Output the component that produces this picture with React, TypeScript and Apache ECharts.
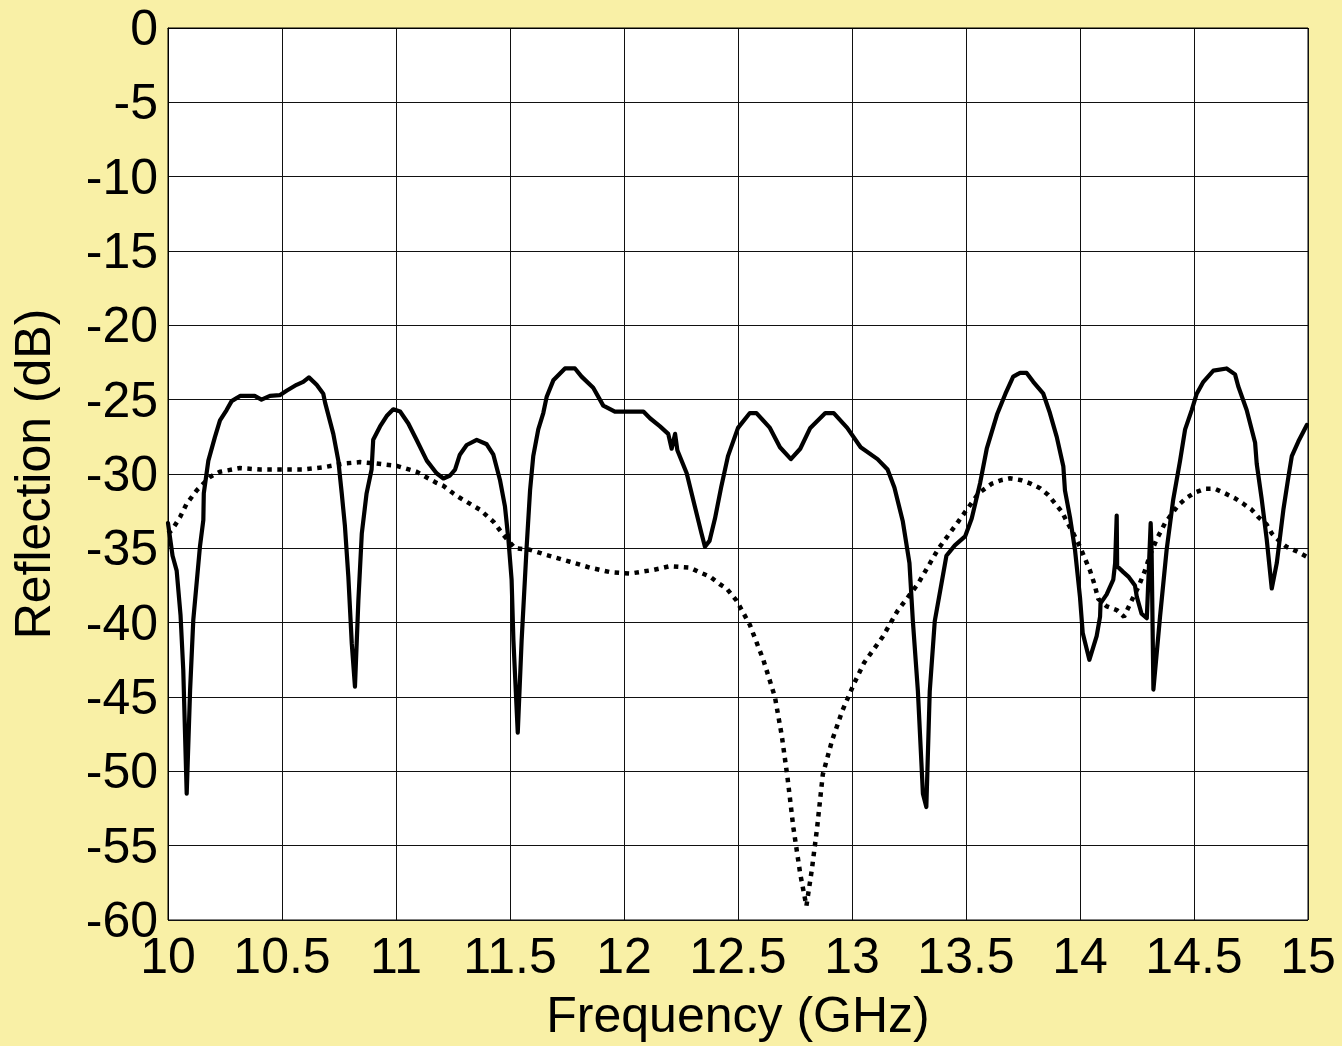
import React, { useEffect, useRef } from "react";
import * as echarts from "echarts";

const xTicks = [10, 10.5, 11, 11.5, 12, 12.5, 13, 13.5, 14, 14.5, 15];
const yTicks = [0, -5, -10, -15, -20, -25, -30, -35, -40, -45, -50, -55, -60];

const freqSolid = [
  10.0, 10.02, 10.038, 10.055, 10.067, 10.082, 10.097, 10.111, 10.14, 10.155, 10.157, 10.177, 10.206, 10.228,
  10.257, 10.279, 10.316, 10.38, 10.41, 10.447, 10.49, 10.52, 10.564, 10.593, 10.618, 10.652, 10.681, 10.689,
  10.725, 10.747, 10.762, 10.776, 10.791, 10.806, 10.82, 10.835, 10.85, 10.871, 10.893, 10.9, 10.93, 10.959,
  10.988, 11.018, 11.054, 11.09, 11.135, 11.178, 11.208, 11.237, 11.259, 11.28, 11.31, 11.354, 11.398, 11.427,
  11.456, 11.478, 11.493, 11.507, 11.515, 11.534, 11.551, 11.573, 11.588, 11.602, 11.624, 11.646, 11.661, 11.69,
  11.741, 11.785, 11.814, 11.865, 11.909, 11.96, 12.085, 12.114, 12.158, 12.194, 12.209, 12.224, 12.234, 12.275,
  12.311, 12.34, 12.355, 12.375, 12.399, 12.426, 12.456, 12.5, 12.552, 12.581, 12.64, 12.684, 12.732, 12.773,
  12.817, 12.883, 12.92, 12.979, 13.038, 13.112, 13.156, 13.186, 13.223, 13.252, 13.267, 13.289, 13.311, 13.326,
  13.341, 13.363, 13.392, 13.414, 13.451, 13.496, 13.525, 13.562, 13.591, 13.636, 13.673, 13.707, 13.737, 13.766,
  13.795, 13.839, 13.868, 13.898, 13.927, 13.934, 13.956, 13.978, 14.0, 14.012, 14.041, 14.073, 14.088, 14.09,
  14.117, 14.146, 14.154, 14.161, 14.163, 14.19, 14.212, 14.241, 14.249, 14.27, 14.293, 14.31, 14.314, 14.322,
  14.351, 14.38, 14.409, 14.439, 14.461, 14.49, 14.512, 14.541, 14.585, 14.643, 14.68, 14.694, 14.731, 14.768,
  14.775, 14.797, 14.819, 14.841, 14.863, 14.892, 14.914, 14.929, 14.958, 14.995,
];
const valSolid = [
  -33.3, -35.5, -36.5, -39.5, -43.2, -51.5, -44.5, -39.8, -34.9, -33.1, -31.3, -29.1, -27.5, -26.4,
  -25.7, -25.1, -24.75, -24.75, -25.0, -24.75, -24.7, -24.4, -24.0, -23.8, -23.5, -24.0, -24.6, -25.2,
  -27.3, -29.1, -31.3, -33.5, -36.9, -41.4, -44.3, -38.5, -34.0, -31.3, -29.7, -27.7, -26.8, -26.1,
  -25.65, -25.8, -26.6, -27.7, -29.1, -29.95, -30.3, -30.1, -29.7, -28.7, -28.05, -27.7, -28.0, -28.7,
  -30.4, -32.2, -34.4, -37.1, -41.2, -47.4, -41.2, -34.9, -31.1, -28.8, -27.0, -25.9, -24.8, -23.7,
  -22.9, -22.9, -23.45, -24.2, -25.4, -25.8, -25.8, -26.25, -26.8, -27.3, -28.3, -27.3, -28.4, -29.95,
  -32.2, -34.0, -34.9, -34.5, -33.0, -30.9, -28.8, -26.9, -25.9, -25.9, -26.9, -28.2, -29.0, -28.3,
  -26.9, -25.9, -25.9, -26.9, -28.2, -29.0, -29.7, -30.9, -33.2, -36.0, -39.9, -44.6, -51.5, -52.4,
  -44.6, -39.9, -37.4, -35.5, -34.8, -34.2, -33.0, -30.6, -28.3, -26.0, -24.6, -23.45, -23.2, -23.2,
  -23.8, -24.6, -25.9, -27.5, -29.5, -31.1, -32.9, -35.1, -38.3, -40.7, -42.5, -40.9, -39.6, -38.7,
  -38.1, -37.1, -36.0, -32.8, -36.2, -36.6, -36.9, -37.5, -38.25, -39.4, -39.7, -33.3, -35.1, -44.5,
  -39.6, -35.1, -31.7, -29.1, -27.0, -25.7, -24.6, -23.8, -23.05, -22.9, -23.3, -24.1, -25.7, -27.9,
  -29.3, -31.7, -34.4, -37.7, -36.0, -32.4, -30.2, -28.8, -27.8, -26.7,
];

const freqDotted = [
  10.0, 10.016, 10.053, 10.082, 10.126, 10.184, 10.228, 10.316, 10.404, 10.593, 10.681, 10.769, 10.842, 10.915,
  11.003, 11.09, 11.178, 11.208, 11.251, 11.28, 11.368, 11.427, 11.471, 11.522, 11.588, 11.661, 11.763, 11.851,
  11.939, 12.026, 12.129, 12.202, 12.289, 12.33, 12.377, 12.419, 12.45, 12.493, 12.552, 12.611, 12.662, 12.692,
  12.717, 12.743, 12.773, 12.8, 12.824, 12.847, 12.872, 12.913, 12.957, 13.009, 13.053, 13.134, 13.2, 13.289,
  13.378, 13.466, 13.555, 13.614, 13.658, 13.693, 13.737, 13.781, 13.825, 13.861, 13.89, 13.92, 13.942, 13.971,
  14.0, 14.022, 14.044, 14.063, 14.08, 14.117, 14.161, 14.193, 14.227, 14.256, 14.285, 14.307, 14.336, 14.373,
  14.431, 14.468, 14.504, 14.548, 14.592, 14.636, 14.68, 14.716, 14.753, 14.782, 14.819, 14.841, 14.877, 14.906,
  14.95, 14.994,
];
const valDotted = [
  -34.0, -33.8, -32.9, -32.0, -31.1, -30.2, -29.85, -29.6, -29.7, -29.7, -29.55, -29.3, -29.2, -29.3,
  -29.45, -29.85, -30.6, -30.8, -31.3, -31.6, -32.4, -33.2, -34.1, -35.0, -35.1, -35.45, -35.9, -36.3,
  -36.6, -36.7, -36.45, -36.2, -36.3, -36.6, -36.9, -37.4, -37.7, -38.5, -40.15, -42.5, -45.0, -47.6,
  -50.4, -53.8, -56.9, -59.06, -56.6, -53.8, -50.2, -47.9, -45.95, -44.1, -42.7, -40.96, -39.2, -37.4,
  -35.05, -33.2, -31.3, -30.64, -30.4, -30.29, -30.4, -30.63, -30.96, -31.41, -31.97, -32.53, -33.2, -34.0,
  -34.9, -35.7, -36.5, -37.4, -38.4, -38.9, -39.15, -39.6, -38.5, -37.6, -36.5, -35.45, -34.4, -33.3,
  -32.1, -31.6, -31.25, -31.0, -31.0, -31.3, -31.64, -32.0, -32.4, -32.9, -33.4, -34.0, -34.55, -34.9,
  -35.2, -35.56,
];

const FONT = "'Liberation Sans', Arial, sans-serif";

export default function App() {
  const ref = useRef<HTMLDivElement>(null);
  useEffect(() => {
    document.body.style.margin = "0";
    if (!ref.current) return;
    const chart = echarts.init(ref.current, undefined, { renderer: "svg" });
    const solid = freqSolid.map((f, i) => [f, valSolid[i]]);
    const dotted = freqDotted.map((f, i) => [f, valDotted[i]]);
    chart.setOption({
      animation: false,
      backgroundColor: "#F9F0A6",
      grid: {
        left: 168,
        right: 34,
        top: 28,
        bottom: 126,
        show: true,
        backgroundColor: "#ffffff",
        borderColor: "#000000",
        borderWidth: 1,
      },
      xAxis: {
        type: "value",
        min: 10,
        max: 15,
        interval: 0.5,
        name: "Frequency (GHz)",
        nameLocation: "middle",
        nameGap: 70,
        nameTextStyle: { fontFamily: FONT, fontSize: 50, color: "#000" },
        axisLine: { show: true, lineStyle: { color: "#000", width: 1 } },
        axisTick: { show: false },
        axisLabel: {
          fontFamily: FONT,
          fontSize: 50,
          color: "#000",
          margin: 11,
          formatter: (v: number) => (xTicks.includes(v) ? String(v) : ""),
        },
        splitLine: { show: true, lineStyle: { color: "#111", width: 1 } },
      },
      yAxis: {
        type: "value",
        min: -60,
        max: 0,
        interval: 5,
        name: "Reflection (dB)",
        nameLocation: "middle",
        nameGap: 110,
        nameTextStyle: { fontFamily: FONT, fontSize: 50, color: "#000" },
        axisLine: { show: true, lineStyle: { color: "#000", width: 1 } },
        axisTick: { show: false },
        axisLabel: {
          fontFamily: FONT,
          fontSize: 50,
          color: "#000",
          margin: 10,
          formatter: (v: number) => (yTicks.includes(v) ? String(v) : ""),
        },
        splitLine: { show: true, lineStyle: { color: "#111", width: 1 } },
      },
      series: [
        {
          type: "line",
          data: dotted,
          showSymbol: false,
          symbol: "none",
          lineStyle: { color: "#000", width: 4.5, type: [4.5, 5.5], cap: "butt" },
          z: 2,
        },
        {
          type: "line",
          data: solid,
          showSymbol: false,
          symbol: "none",
          lineStyle: { color: "#000", width: 4.2, join: "round", cap: "round" },
          z: 3,
        },
      ],
    });
    return () => chart.dispose();
  }, []);
  return <div ref={ref} style={{ width: 1342, height: 1046 }} />;
}
